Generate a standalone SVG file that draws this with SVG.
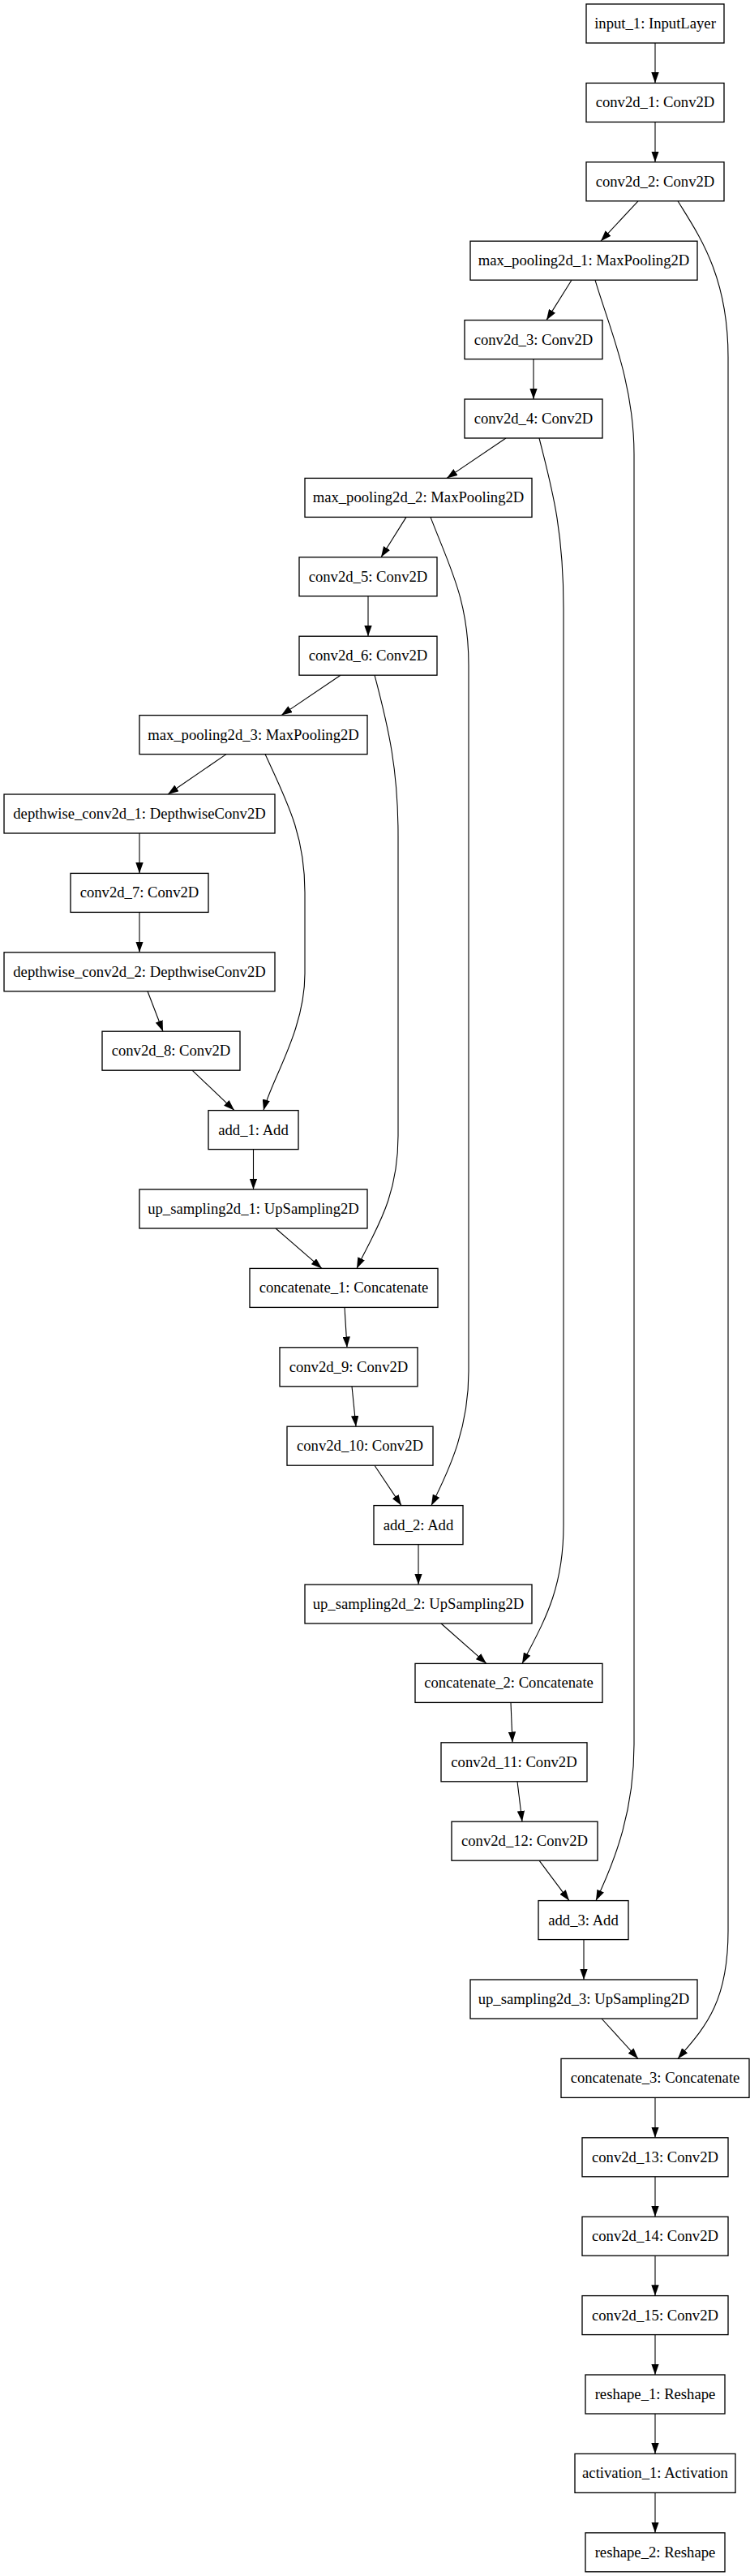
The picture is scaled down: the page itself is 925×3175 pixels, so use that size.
<svg xmlns="http://www.w3.org/2000/svg" width="925" height="3175" viewBox="0 0 925 3175">
<style>
.n rect{fill:#fff;stroke:#000;stroke-width:1.33}
.n text{font-family:"Liberation Serif","Times New Roman",serif;font-size:18.67px;text-anchor:middle;fill:#000}
#edges path{fill:none;stroke:#000;stroke-width:1.1;marker-end:url(#ah)}
</style>
<defs>
<marker id="ah" markerUnits="userSpaceOnUse" viewBox="0 0 13.3 9.4" markerWidth="13.3" markerHeight="9.4" refX="13.3" refY="4.7" orient="auto">
<path d="M0,0 L13.3,4.7 L0,9.4 z" fill="#000"/>
</marker>
</defs>
<rect width="925" height="3175" fill="#fff"/>
<g id="edges">
<path d="M808,53 L808,102.4"/>
<path d="M808,150.4 L808,199.8"/>
<path d="M787,247.8 L741,297.2"/>
<path d="M705,345.2 L674,394.6"/>
<path d="M658,442.6 L658,492"/>
<path d="M624,540 L551,589.4"/>
<path d="M501,637.4 L470,686.8"/>
<path d="M454,734.8 L454,784.2"/>
<path d="M420,832.2 L347,881.6"/>
<path d="M279,929.6 L207,979"/>
<path d="M172,1027 L172,1076.4"/>
<path d="M172,1124.4 L172,1173.8"/>
<path d="M182,1221.8 L201,1271.2"/>
<path d="M237,1319.2 L289,1368.6"/>
<path d="M312.5,1416.6 L312.5,1466"/>
<path d="M340,1514 L397,1563.4"/>
<path d="M425,1611.4 L428,1660.8"/>
<path d="M434,1708.8 L439,1758.2"/>
<path d="M462,1806.2 L495,1855.6"/>
<path d="M516,1903.6 L516,1953"/>
<path d="M544,2001 L600,2050.4"/>
<path d="M630,2098.4 L632,2147.8"/>
<path d="M638,2195.8 L644,2245.2"/>
<path d="M665,2293.2 L702,2342.6"/>
<path d="M720,2390.6 L720,2440"/>
<path d="M742,2488 L787,2537.4"/>
<path d="M808,2585.4 L808,2634.8"/>
<path d="M808,2682.8 L808,2732.2"/>
<path d="M808,2780.2 L808,2829.6"/>
<path d="M808,2877.6 L808,2927"/>
<path d="M808,2975 L808,3024.4"/>
<path d="M808,3072.4 L808,3121.8"/>
<path d="M836,247.8 C862,290 898,340 898,440 L898,2380 C898,2470 868,2500 836,2537.4"/>
<path d="M734,345.2 C750,400 782,470 782,560 L782,2150 C782,2230 760,2290 735,2342.6"/>
<path d="M665,540 C680,600 695,650 695,750 L695,1880 C695,1960 670,2000 644,2050.4"/>
<path d="M531,637.4 C555,700 578,740 578,820 L578,1690 C578,1760 555,1810 532,1855.6"/>
<path d="M462,832.2 C480,900 491,950 491,1030 L491,1400 C491,1480 460,1520 440,1563.4"/>
<path d="M327,929.6 C355,990 376,1030 376,1100 L376,1200 C376,1270 335,1330 325,1368.6"/>
</g>
<g id="input_1" class="n"><rect x="723" y="5" width="170" height="48"/><text x="808" y="35">input_1: InputLayer</text></g>
<g id="conv2d_1" class="n"><rect x="723" y="102.4" width="170" height="48"/><text x="808" y="132.4">conv2d_1: Conv2D</text></g>
<g id="conv2d_2" class="n"><rect x="723" y="199.8" width="170" height="48"/><text x="808" y="229.8">conv2d_2: Conv2D</text></g>
<g id="max_pooling2d_1" class="n"><rect x="580" y="297.2" width="280" height="48"/><text x="720" y="327.2">max_pooling2d_1: MaxPooling2D</text></g>
<g id="conv2d_3" class="n"><rect x="573" y="394.6" width="170" height="48"/><text x="658" y="424.6">conv2d_3: Conv2D</text></g>
<g id="conv2d_4" class="n"><rect x="573" y="492" width="170" height="48"/><text x="658" y="522">conv2d_4: Conv2D</text></g>
<g id="max_pooling2d_2" class="n"><rect x="376" y="589.4" width="280" height="48"/><text x="516" y="619.4">max_pooling2d_2: MaxPooling2D</text></g>
<g id="conv2d_5" class="n"><rect x="369" y="686.8" width="170" height="48"/><text x="454" y="716.8">conv2d_5: Conv2D</text></g>
<g id="conv2d_6" class="n"><rect x="369" y="784.2" width="170" height="48"/><text x="454" y="814.2">conv2d_6: Conv2D</text></g>
<g id="max_pooling2d_3" class="n"><rect x="172" y="881.6" width="281" height="48"/><text x="312.5" y="911.6">max_pooling2d_3: MaxPooling2D</text></g>
<g id="depthwise_conv2d_1" class="n"><rect x="5" y="979" width="334" height="48"/><text x="172" y="1009">depthwise_conv2d_1: DepthwiseConv2D</text></g>
<g id="conv2d_7" class="n"><rect x="87" y="1076.4" width="170" height="48"/><text x="172" y="1106.4">conv2d_7: Conv2D</text></g>
<g id="depthwise_conv2d_2" class="n"><rect x="5" y="1173.8" width="334" height="48"/><text x="172" y="1203.8">depthwise_conv2d_2: DepthwiseConv2D</text></g>
<g id="conv2d_8" class="n"><rect x="126" y="1271.2" width="170" height="48"/><text x="211" y="1301.2">conv2d_8: Conv2D</text></g>
<g id="add_1" class="n"><rect x="257" y="1368.6" width="111" height="48"/><text x="312.5" y="1398.6">add_1: Add</text></g>
<g id="up_sampling2d_1" class="n"><rect x="172" y="1466" width="281" height="48"/><text x="312.5" y="1496">up_sampling2d_1: UpSampling2D</text></g>
<g id="concatenate_1" class="n"><rect x="308" y="1563.4" width="232" height="48"/><text x="424" y="1593.4">concatenate_1: Concatenate</text></g>
<g id="conv2d_9" class="n"><rect x="345" y="1660.8" width="170" height="48"/><text x="430" y="1690.8">conv2d_9: Conv2D</text></g>
<g id="conv2d_10" class="n"><rect x="354" y="1758.2" width="180" height="48"/><text x="444" y="1788.2">conv2d_10: Conv2D</text></g>
<g id="add_2" class="n"><rect x="461" y="1855.6" width="110" height="48"/><text x="516" y="1885.6">add_2: Add</text></g>
<g id="up_sampling2d_2" class="n"><rect x="376" y="1953" width="280" height="48"/><text x="516" y="1983">up_sampling2d_2: UpSampling2D</text></g>
<g id="concatenate_2" class="n"><rect x="512" y="2050.4" width="231" height="48"/><text x="627.5" y="2080.4">concatenate_2: Concatenate</text></g>
<g id="conv2d_11" class="n"><rect x="544" y="2147.8" width="180" height="48"/><text x="634" y="2177.8">conv2d_11: Conv2D</text></g>
<g id="conv2d_12" class="n"><rect x="557" y="2245.2" width="180" height="48"/><text x="647" y="2275.2">conv2d_12: Conv2D</text></g>
<g id="add_3" class="n"><rect x="664" y="2342.6" width="111" height="48"/><text x="719.5" y="2372.6">add_3: Add</text></g>
<g id="up_sampling2d_3" class="n"><rect x="580" y="2440" width="280" height="48"/><text x="720" y="2470">up_sampling2d_3: UpSampling2D</text></g>
<g id="concatenate_3" class="n"><rect x="692" y="2537.4" width="232" height="48"/><text x="808" y="2567.4">concatenate_3: Concatenate</text></g>
<g id="conv2d_13" class="n"><rect x="718" y="2634.8" width="180" height="48"/><text x="808" y="2664.8">conv2d_13: Conv2D</text></g>
<g id="conv2d_14" class="n"><rect x="718" y="2732.2" width="180" height="48"/><text x="808" y="2762.2">conv2d_14: Conv2D</text></g>
<g id="conv2d_15" class="n"><rect x="718" y="2829.6" width="180" height="48"/><text x="808" y="2859.6">conv2d_15: Conv2D</text></g>
<g id="reshape_1" class="n"><rect x="722" y="2927" width="172" height="48"/><text x="808" y="2957">reshape_1: Reshape</text></g>
<g id="activation_1" class="n"><rect x="709" y="3024.4" width="198" height="48"/><text x="808" y="3054.4">activation_1: Activation</text></g>
<g id="reshape_2" class="n"><rect x="722" y="3121.8" width="172" height="48"/><text x="808" y="3151.8">reshape_2: Reshape</text></g>
</svg>
